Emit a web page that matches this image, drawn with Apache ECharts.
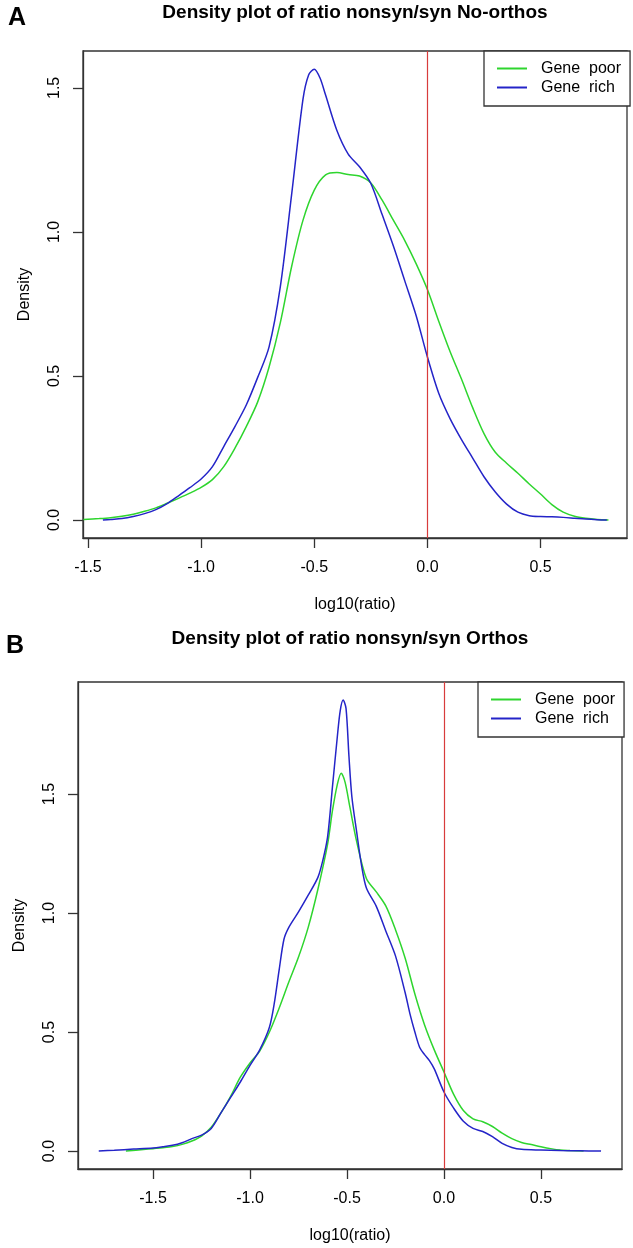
<!DOCTYPE html>
<html>
<head>
<meta charset="utf-8">
<script src="https://cdn.jsdelivr.net/npm/echarts@6/dist/echarts.min.js"></script>
<style>
html,body{margin:0;padding:0;background:#fff;}
#chart{width:633px;height:1248px;}
</style>
</head>
<body>
<div id="chart"></div>
<script>
// ---------- data ----------
const seriesNames = ['Gene poor', 'Gene rich'];
const panelLetters = ['A', 'B'];
const panelTitles = ['Density plot of ratio nonsyn/syn No-orthos', 'Density plot of ratio nonsyn/syn Orthos'];
const xAxisName = 'log10(ratio)';
const yAxisName = 'Density';
const xTicks = [-1.5, -1.0, -0.5, 0.0, 0.5];
const yTicks = [0.0, 0.5, 1.0, 1.5];
const refLineX = [0];

// Panel A (No-orthos): [log10(ratio), density]
const noOrthosPoor = [
  [-1.52,0.002],[-1.45,0.005],[-1.40,0.008],[-1.35,0.013],[-1.30,0.02],[-1.25,0.03],
  [-1.20,0.042],[-1.15,0.058],[-1.10,0.075],[-1.05,0.093],[-1.00,0.113],[-0.95,0.14],
  [-0.90,0.185],[-0.85,0.25],[-0.80,0.325],[-0.75,0.41],[-0.70,0.53],[-0.65,0.685],
  [-0.60,0.88],[-0.55,1.04],[-0.50,1.145],[-0.45,1.198],[-0.40,1.206],[-0.35,1.199],
  [-0.30,1.194],[-0.25,1.17],[-0.20,1.11],[-0.15,1.04],[-0.10,0.97],[-0.05,0.89],
  [0.00,0.80],[0.05,0.69],[0.10,0.585],[0.15,0.49],[0.20,0.39],[0.25,0.3],[0.30,0.235],
  [0.35,0.197],[0.40,0.162],[0.45,0.125],[0.50,0.09],[0.55,0.053],[0.60,0.027],
  [0.65,0.013],[0.70,0.006],[0.75,0.002],[0.80,0.0]
];
const noOrthosRich = [
  [-1.434,0.0],[-1.40,0.002],[-1.35,0.005],[-1.30,0.012],[-1.25,0.022],[-1.20,0.036],
  [-1.15,0.057],[-1.10,0.084],[-1.05,0.112],[-1.00,0.142],[-0.95,0.185],[-0.90,0.255],
  [-0.85,0.325],[-0.80,0.40],[-0.75,0.495],[-0.70,0.60],[-0.65,0.81],[-0.60,1.13],
  [-0.55,1.46],[-0.525,1.545],[-0.50,1.565],[-0.475,1.535],[-0.45,1.475],[-0.40,1.352],
  [-0.35,1.27],[-0.30,1.226],[-0.25,1.168],[-0.20,1.06],[-0.15,0.95],[-0.10,0.83],
  [-0.05,0.71],[0.00,0.566],[0.05,0.44],[0.10,0.352],[0.15,0.28],[0.20,0.215],[0.25,0.15],
  [0.30,0.097],[0.35,0.055],[0.40,0.027],[0.45,0.015],[0.50,0.012],[0.55,0.011],
  [0.60,0.009],[0.65,0.006],[0.70,0.003],[0.75,0.001],[0.793,0.0]
];

// Panel B (Orthos): [log10(ratio), density]
const orthosPoor = [
  [-1.64,0.0],[-1.55,0.006],[-1.50,0.01],[-1.45,0.014],[-1.40,0.019],[-1.35,0.028],
  [-1.30,0.042],[-1.25,0.063],[-1.20,0.1],[-1.15,0.16],[-1.10,0.23],[-1.05,0.31],
  [-1.00,0.37],[-0.95,0.42],[-0.90,0.50],[-0.85,0.60],[-0.80,0.71],[-0.75,0.815],
  [-0.70,0.94],[-0.65,1.10],[-0.60,1.29],[-0.575,1.43],[-0.55,1.54],[-0.53,1.588],
  [-0.51,1.55],[-0.485,1.445],[-0.45,1.30],[-0.40,1.145],[-0.35,1.09],[-0.30,1.03],
  [-0.25,0.93],[-0.20,0.81],[-0.15,0.66],[-0.10,0.53],[-0.05,0.425],[0.00,0.332],
  [0.05,0.238],[0.10,0.17],[0.15,0.135],[0.20,0.123],[0.25,0.103],[0.30,0.075],
  [0.35,0.052],[0.40,0.036],[0.45,0.027],[0.50,0.018],[0.55,0.01],[0.60,0.004],
  [0.65,0.002],[0.72,0.0]
];
const orthosRich = [
  [-1.78,0.0],[-1.70,0.003],[-1.60,0.008],[-1.50,0.013],[-1.45,0.018],[-1.40,0.024],
  [-1.35,0.035],[-1.30,0.052],[-1.25,0.067],[-1.20,0.095],[-1.15,0.16],[-1.10,0.225],
  [-1.05,0.29],[-1.00,0.36],[-0.95,0.425],[-0.90,0.52],[-0.875,0.62],[-0.85,0.76],
  [-0.825,0.89],[-0.80,0.94],[-0.75,1.005],[-0.70,1.075],[-0.65,1.15],[-0.625,1.22],
  [-0.60,1.32],[-0.575,1.53],[-0.55,1.74],[-0.535,1.85],[-0.52,1.895],[-0.505,1.86],
  [-0.49,1.66],[-0.475,1.49],[-0.45,1.34],[-0.425,1.20],[-0.40,1.105],[-0.35,1.03],
  [-0.30,0.925],[-0.25,0.82],[-0.20,0.665],[-0.175,0.575],[-0.15,0.50],[-0.125,0.435],
  [-0.10,0.405],[-0.075,0.38],[-0.05,0.345],[0.00,0.248],[0.05,0.18],[0.10,0.125],
  [0.15,0.095],[0.20,0.082],[0.25,0.06],[0.30,0.032],[0.35,0.015],[0.40,0.007],
  [0.50,0.004],[0.60,0.002],[0.70,0.001],[0.81,0.0]
];

// ---------- styles / layout ----------
const FONT = '"Liberation Sans", Arial, Helvetica, sans-serif';
const GREEN = '#2ed52e';
const BLUE = '#2424c8';
const RED = '#d83c3c';
const BOX = '#333333';

const panels = [
  {grid:{left:83, top:51, width:544, height:487}, xmin:-1.522, xmax:0.882, ymin:-0.0626, ymax:1.628,
   titleX:355, titleTop:3, letterTop:6, letterLeft:8, legendLeft:484, legendTop:51,
   poor:noOrthosPoor, rich:noOrthosRich},
  {grid:{left:78, top:682, width:544, height:487}, xmin:-1.887, xmax:0.918, ymin:-0.0756, ymax:1.971,
   titleX:350, titleTop:629, letterTop:634, letterLeft:6, legendLeft:478, legendTop:682,
   poor:orthosPoor, rich:orthosRich}
];

const option = {
  animation:false,
  backgroundColor:'#ffffff',
  title:[], grid:[], xAxis:[], yAxis:[], legend:[], series:[]
};

panels.forEach((p, i) => {
  option.title.push({
    text: panelTitles[i], left: p.titleX, top: p.titleTop, textAlign:'center', padding:0,
    textStyle:{fontFamily:FONT, fontSize:19, fontWeight:'bold', color:'#000'}
  });
  option.title.push({
    text: panelLetters[i], left: p.letterLeft, top: p.letterTop, padding:0,
    textStyle:{fontFamily:FONT, fontSize:25, fontWeight:'bold', color:'#000'}
  });
  option.grid.push(Object.assign({show:true, borderColor:BOX, borderWidth:1.3, backgroundColor:'transparent', containLabel:false}, p.grid));
  option.xAxis.push({
    gridIndex:i, type:'value', min:p.xmin, max:p.xmax,
    name:xAxisName, nameLocation:'middle', nameGap:59,
    nameTextStyle:{fontFamily:FONT, fontSize:16, color:'#000'},
    axisLine:{show:true, onZero:false, lineStyle:{color:BOX, width:1.3}},
    axisTick:{show:true, inside:false, length:10, customValues:xTicks, lineStyle:{color:BOX, width:1.3}},
    axisLabel:{show:true, customValues:xTicks, margin:22, fontFamily:FONT, fontSize:16, color:'#000',
      formatter:v => Number(v).toFixed(1)},
    splitLine:{show:false}
  });
  option.yAxis.push({
    gridIndex:i, type:'value', min:p.ymin, max:p.ymax,
    name:yAxisName, nameLocation:'middle', nameGap:50, nameRotate:90,
    nameTextStyle:{fontFamily:FONT, fontSize:16, color:'#000'},
    axisLine:{show:true, onZero:false, lineStyle:{color:BOX, width:1.3}},
    axisTick:{show:true, inside:false, length:10, customValues:yTicks, lineStyle:{color:BOX, width:1.3}},
    axisLabel:{show:true, customValues:yTicks, margin:20, rotate:90, fontFamily:FONT, fontSize:16, color:'#000',
      formatter:v => Number(v).toFixed(1)},
    splitLine:{show:false}
  });
  option.legend.push({
    orient:'vertical', left:p.legendLeft, top:p.legendTop, padding:[8,9,9,13],
    itemGap:0, itemWidth:30, itemHeight:2, icon:'rect',
    borderColor:BOX, borderWidth:1.3, backgroundColor:'#fff', selectedMode:false,
    formatter: name => name.replace(' ', '  '),
    textStyle:{fontFamily:FONT, fontSize:16, lineHeight:19, color:'#000', padding:[0,0,0,9]},
    data: seriesNames.slice()
  });
  // reference line at log10(ratio) = 0
  option.series.push({
    name:'ref' + i, type:'line', xAxisIndex:i, yAxisIndex:i, data:[], silent:true, z:4,
    markLine:{silent:true, symbol:['none','none'], label:{show:false}, animation:false,
      lineStyle:{color:RED, width:1.2, type:'solid', opacity:1},
      emphasis:{disabled:true},
      data: refLineX.map(v => ({xAxis:v}))}
  });
  const mk = (name, data, color) => ({
    name, type:'line', xAxisIndex:i, yAxisIndex:i, data, showSymbol:false, symbol:'none',
    smooth:0.3, lineStyle:{color, width:1.5}, itemStyle:{color}, silent:true, z:3
  });
  option.series.push(mk(seriesNames[0], p.poor, GREEN));
  option.series.push(mk(seriesNames[1], p.rich, BLUE));
});

const chart = echarts.init(document.getElementById('chart'), null, {renderer:'canvas'});
chart.setOption(option);
</script>
</body>
</html>
